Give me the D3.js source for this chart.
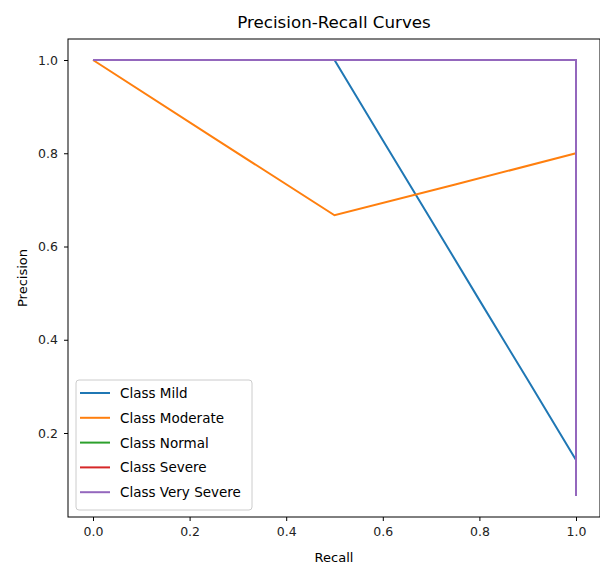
<!DOCTYPE html>
<html><head><meta charset="utf-8">
<script src="https://cdn.jsdelivr.net/npm/d3@7"></script>
<style>body{margin:0;background:#fff}svg{display:block;font-family:"DejaVu Sans",sans-serif}</style>
</head><body><svg id="c" width="600" height="567"></svg>
<script>
const classes = ["Class Mild","Class Moderate","Class Normal","Class Severe","Class Very Severe"];
const colors = ["#1f77b4","#ff7f0e","#2ca02c","#d62728","#9467bd"];
const recallMild = [0,0.5,0.6,0.7,0.8,0.9,1.0,1.0];
const precMild   = [1,1,0.828,0.657,0.485,0.314,0.142,0.142];
const recallModerate = [0,0.25,0.5,0.75,1.0];
const precModerate   = [1,0.833,0.667,0.733,0.8];
const recallNormal = [0,1,1];
const precNormal   = [1,1,0.1];
const recallSevere = [0,1,1];
const precSevere   = [1,1,0.09];
const recallVerySevere = [0,1,1];
const precVerySevere   = [1,1,0.065];
const xTicks = [0,0.2,0.4,0.6,0.8,1.0];
const yTicks = [0.2,0.4,0.6,0.8,1.0];

const recalls=[recallMild,recallModerate,recallNormal,recallSevere,recallVerySevere];
const precs=[precMild,precModerate,precNormal,precSevere,precVerySevere];

const svg=d3.select("#c");
const L=68,T=39,R=600,B=517;
const x=d3.scaleLinear().domain([0,1]).range([93,576]);
const y=d3.scaleLinear().domain([0.2,1]).range([433,60]);

svg.append("text").attr("x",334).attr("y",28).attr("text-anchor","middle").attr("font-size",16.7).text("Precision-Recall Curves");

const line=d3.line().x(d=>x(d[0])).y(d=>y(d[1]));
classes.forEach((c,i)=>{
  const pts=recalls[i].map((r,j)=>[r,precs[i][j]]);
  svg.append("path").attr("d",line(pts)).attr("fill","none").attr("stroke",colors[i]).attr("stroke-width",2);
});

svg.append("rect").attr("x",L).attr("y",T).attr("width",R-L).attr("height",B-T).attr("fill","none").attr("stroke","#000").attr("stroke-width",1);

const xa=svg.append("g").attr("transform",`translate(0,${B})`).call(d3.axisBottom(x).tickValues(xTicks).tickFormat(d3.format(".1f")).tickSize(4).tickPadding(6));
xa.select(".domain").remove();
const ya=svg.append("g").attr("transform",`translate(${L},0)`).call(d3.axisLeft(y).tickValues(yTicks).tickFormat(d3.format(".1f")).tickSize(4).tickPadding(6));
ya.select(".domain").remove();
svg.selectAll(".tick text").attr("font-size",12.5).attr("font-family","DejaVu Sans").attr("fill","#222");

svg.append("text").attr("x",334).attr("y",562).attr("text-anchor","middle").attr("font-size",13).text("Recall");
svg.append("text").attr("transform","translate(27,278) rotate(-90)").attr("text-anchor","middle").attr("font-size",13).text("Precision");

const lg=svg.append("g");
lg.append("rect").attr("x",76).attr("y",380).attr("width",176).attr("height",130).attr("rx",3).attr("fill","#fff").attr("fill-opacity",0.8).attr("stroke","#ccc");
classes.forEach((c,i)=>{
  const yy=393+i*24.8;
  lg.append("line").attr("x1",80).attr("x2",110).attr("y1",yy).attr("y2",yy).attr("stroke",colors[i]).attr("stroke-width",2);
  lg.append("text").attr("x",120).attr("y",yy+5).attr("font-size",13.5).text(c);
});
</script></body></html>
